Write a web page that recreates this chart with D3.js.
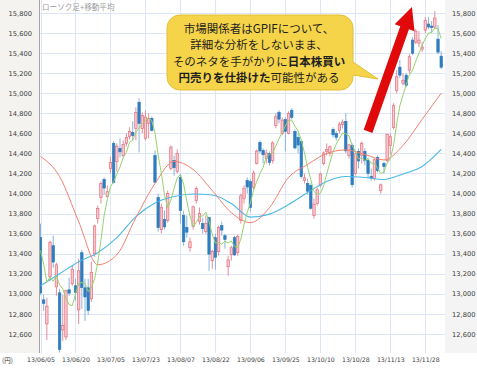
<!DOCTYPE html>
<html>
<head>
<meta charset="utf-8">
<script src="https://cdn.jsdelivr.net/npm/d3@7"></script>
<style>
body { margin: 0; background: #fff; }
svg text { font-family: "DejaVu Sans", sans-serif; }
</style>
</head>
<body>
<div id="chart"></div>
<script>
// 日経平均 日足 (13/06/05 - 13/12/05)
const opens = [13560,12940,12700,13170,13480,13070,13010,12640,12570,13040,13100,13080,12840,13410,13060,13060,12950,13400,
  13750,13960,14140,13970,14250,14500,14320,14450,14380,14500,14570,14610,14650,14910,14650,14550,14700,14747,14380,13960,13640,13740,
  13730,14250,14330,14220,14160,13780,13660,13460,13670,13930,13720,13700,13620,13760,13330,13560,13420,13680,13580,13270,13390,13560,
  13410,13730,13950,14130,14120,14060,14300,14510,14430,14350,14400,14330,14680,14810,14600,14740,14600,14830,14620,
  14560,14520,14130,14100,14080,13780,13900,14080,14300,14420,14400,14640,14600,14630,14690,14720,14380,14480,14200,14420,14380,14420,
  14330,14170,14150,14360,14030,14300,14330,14480,14660,15030,15260,15100,15180,15230,15530,15510,15500,15440,15630,15690,
  15670,15660,15540,15370];
const highs = [13700,12990,12960,13530,13580,13310,13050,12990,13040,13160,13280,13150,13350,13440,13150,13150,13320,13690,
  13880,14120,14160,14080,14370,14520,14500,14550,14530,14600,14660,14720,14860,14950,14810,14830,14800,14770,14430,14000,13900,13830,
  14030,14480,14380,14440,14200,13830,13780,13560,13880,14070,13860,13760,13780,13770,13440,13600,13680,13720,13600,13380,13480,13580,
  13590,14000,14080,14160,14140,14230,14440,14530,14450,14440,14420,14520,14800,14830,14760,14760,14820,14850,14640,
  14600,14540,14200,14150,14100,13950,14060,14210,14420,14500,14480,14660,14620,14710,14740,14800,14490,14500,14420,14450,14520,14450,
  14350,14250,14350,14380,14100,14320,14600,14600,14900,15230,15330,15200,15200,15390,15560,15640,15620,15510,15760,15760,
  15720,15820,15680,15420];
const lows = [12990,12830,12540,13130,13260,12980,12415,12530,12540,12980,13080,12930,12700,12850,12730,12790,12920,13370,
  13700,13900,13990,13960,14200,14100,14220,14360,14360,14470,14540,14530,14530,14410,14600,14530,14550,14620,14100,13620,13600,13640,
  13710,14230,14180,14200,13700,13480,13560,13420,13640,13900,13690,13600,13600,13230,13250,13240,13380,13580,13450,13180,13330,13380,
  13380,13700,13900,14000,13820,14040,14290,14400,14300,14300,14280,14300,14650,14700,14580,14420,14590,14740,14440,
  14400,14150,14100,13990,13840,13750,13880,14060,14280,14380,14370,14560,14530,14600,14650,14400,14350,14060,14180,14250,14300,14280,
  14150,14130,14130,14210,14000,14200,14310,14390,14640,15000,15150,15080,15060,15200,15380,15490,15460,15410,15600,15640,
  15600,15640,15390,15240];
const closes = [13010,12904,12877,13514,13317,13289,12445,12686,13033,13007,13245,13014,13230,13062,12969,12834,13213,13677,
  13852,14099,14055,14018,14309,14109,14473,14416,14490,14560,14620,14580,14808,14700,14780,14763,14747,14630,14113,13661,13863,13668,
  14000,14463,14258,14401,13830,13520,13615,13519,13868,14050,13800,13650,13700,13396,13424,13365,13660,13636,13542,13338,13459,13388,
  13572,13978,14053,14065,13860,14205,14423,14425,14387,14404,14311,14505,14766,14742,14732,14620,14799,14760,14455,
  14484,14170,14157,14024,13853,13894,14037,14194,14404,14441,14467,14586,14561,14693,14713,14426,14486,14088,14396,14325,14502,14327,
  14201,14155,14337,14228,14086,14270,14588,14567,14876,15165,15180,15130,15080,15365,15400,15619,15530,15460,15727,15661,
  15655,15750,15410,15260];

// 移動平均 (5日: 毎日, 25日・75日: 6日おきに読み取り)
const ma5 = [13433,13296,13117,13168,13124,13180,13088,13050,12954,12892,12883,12997,13106,13112,13104,13022,13062,13151,
  13309,13535,13779,13940,14067,14118,14193,14265,14359,14410,14512,14533,14612,14654,14698,14726,14760,14724,14607,14383,14203,13987,
  13861,13931,14050,14158,14190,14094,13925,13777,13670,13714,13770,13777,13814,13719,13594,13507,13509,13496,13525,13508,13527,13473,
  13460,13547,13690,13811,13906,14032,14121,14196,14260,14369,14390,14406,14475,14546,14611,14673,14732,14731,14673,
  14624,14534,14405,14258,14138,14020,13993,14000,14076,14194,14309,14418,14492,14550,14604,14596,14576,14481,14422,14344,14359,14328,
  14350,14302,14304,14250,14201,14215,14302,14348,14477,14693,14875,14984,15086,15184,15231,15319,15399,15475,15547,15599,
  15607,15651,15641,15547];
const maDays = [0,6,12,18,24,30,36,42,48,54,60,66,72,78,84,90,96,102,108,114,120,126];
const ma25 = [14370,14170,13720,13290,13390,13760,14100,14320,14240,14030,13810,13710,13860,14160,14290,14400,14435,14390,14335,14480,14740,15000];
const ma75 = [13080,13200,13320,13410,13560,13770,13905,13970,13995,13985,13900,13765,13795,13890,14010,14120,14170,14160,14140,14195,14270,14440];

const tickDays = [0,11,22,33,44,55,66,77,88,99,110,121];
const tickLabels = ["13/06/05","13/06/20","13/07/05","13/07/23","13/08/07","13/08/22","13/09/06","13/09/25","13/10/10","13/10/28","13/11/13","13/11/28"];
const yTicks = [12600,12800,13000,13200,13400,13600,13800,14000,14200,14400,14600,14800,15000,15200,15400,15600,15800];

const width = 477, height = 368;
const plot = { left: 40, right: 445, top: 0, bottom: 353 };

const svg = d3.select("#chart").append("svg")
  .attr("width", width)
  .attr("height", height);

svg.append("rect").attr("width", width).attr("height", height).attr("fill", "#fff");
// 左右の目盛り欄
svg.append("rect").attr("x", 0).attr("y", 0).attr("width", plot.left - 1).attr("height", plot.bottom).attr("fill", "#f4f3f0");
svg.append("rect").attr("x", plot.right).attr("y", 0).attr("width", width - plot.right).attr("height", plot.bottom).attr("fill", "#f4f4f4");

const x = d3.scaleLinear().domain([0, 126]).range([40.5, 441.2]);
const y = d3.scaleLinear().domain([12410, 15930]).range([plot.bottom, plot.top]);

svg.append("clipPath").attr("id", "plotclip")
  .append("rect").attr("x", plot.left).attr("y", plot.top)
  .attr("width", plot.right - plot.left).attr("height", plot.bottom - plot.top);

const g = svg.append("g").attr("clip-path", "url(#plotclip)");

// グリッド
g.selectAll("line.hgrid").data(yTicks).enter().append("line")
  .attr("class", "hgrid")
  .attr("x1", plot.left).attr("x2", plot.right)
  .attr("y1", d => Math.round(y(d)) + 0.5).attr("y2", d => Math.round(y(d)) + 0.5)
  .attr("stroke", "#dde6f6").attr("stroke-width", 1);
g.selectAll("line.vgrid").data(tickDays).enter().append("line")
  .attr("class", "vgrid")
  .attr("x1", d => Math.round(x(d)) + 0.5).attr("x2", d => Math.round(x(d)) + 0.5)
  .attr("y1", plot.top).attr("y2", plot.bottom)
  .attr("stroke", "#dde6f6").attr("stroke-width", 1);

// ローソク足
const candles = opens.map((o, i) => ({ i: i, o: o, h: highs[i], l: lows[i], c: closes[i] }));
const isUp = d => d.c >= d.o;

g.selectAll("line.wick").data(candles).enter().append("line")
  .attr("class", "wick")
  .attr("x1", d => x(d.i)).attr("x2", d => x(d.i))
  .attr("y1", d => y(d.h)).attr("y2", d => y(d.l))
  .attr("stroke", d => isUp(d) ? "#e68c97" : "#86b5dd")
  .attr("stroke-width", 1);

g.selectAll("rect.body").data(candles).enter().append("rect")
  .attr("class", "body")
  .attr("x", d => x(d.i) - 1.2)
  .attr("width", 2.4)
  .attr("y", d => y(Math.max(d.o, d.c)))
  .attr("height", d => Math.max(1, Math.abs(y(d.o) - y(d.c))))
  .attr("fill", d => isUp(d) ? "#f6c8ce" : "#2f7dbf")
  .attr("stroke", d => isUp(d) ? "#e2707d" : "#2f7dbf")
  .attr("stroke-width", 0.7);

// 移動平均線
const lineDaily = d3.line().x((d, i) => x(i)).y(d => y(d));
const lineSampled = d3.line().x(d => x(d[0])).y(d => y(d[1])).curve(d3.curveMonotoneX);

g.append("path").datum(maDays.map((d, i) => [d, ma75[i]]))
  .attr("d", lineSampled).attr("fill", "none").attr("stroke", "#4cb9e6").attr("stroke-width", 1.1);
g.append("path").datum(maDays.map((d, i) => [d, ma25[i]]))
  .attr("d", lineSampled).attr("fill", "none").attr("stroke", "#f2806e").attr("stroke-width", 1);
g.append("path").datum(ma5)
  .attr("d", lineDaily).attr("fill", "none").attr("stroke", "#95d36e").attr("stroke-width", 1);

// 左の境界線
svg.append("line").attr("x1", plot.left - 0.5).attr("x2", plot.left - 0.5)
  .attr("y1", 0).attr("y2", plot.bottom).attr("stroke", "#a5a5a5");

// タイトル
svg.append("text").attr("x", 42).attr("y", 10)
  .style("font-family", "'Noto Sans CJK JP'").style("font-size", "7.6px")
  .attr("fill", "#9a9a9a").text("ローソク足+移動平均");

// 目盛り
const fmt = d3.format(",");
const yLeft = svg.append("g").attr("transform", `translate(${plot.left - 5},0)`)
  .call(d3.axisLeft(y).tickValues(yTicks).tickSize(0).tickFormat(fmt));
const yRight = svg.append("g").attr("transform", `translate(${plot.right + 4},0)`)
  .call(d3.axisRight(y).tickValues(yTicks).tickSize(0).tickFormat(fmt));
const xAxis = svg.append("g").attr("transform", `translate(0,${plot.bottom + 2})`)
  .call(d3.axisBottom(x).tickValues(tickDays).tickSize(0).tickFormat((d, i) => tickLabels[i]));

[yLeft, yRight, xAxis].forEach(a => {
  a.select(".domain").remove();
  a.selectAll("text").attr("fill", "#3a3a3a").style("font-family", "'DejaVu Sans'");
});
yLeft.selectAll("text").style("font-size", "6.7px").attr("dx", "0");
yRight.selectAll("text").style("font-size", "6.7px").attr("dx", "0");
xAxis.selectAll("text").style("font-size", "6.2px");

svg.append("text").attr("x", 2).attr("y", 363)
  .style("font-family", "'Noto Sans CJK JP'").style("font-size", "6.5px")
  .attr("fill", "#3a3a3a").text("(円)");

// 赤い矢印
const a0 = [x(103), y(14620)], a1 = [x(116.8), y(15860)];
const len = Math.hypot(a1[0] - a0[0], a1[1] - a0[1]);
const ux = (a1[0] - a0[0]) / len, uy = (a1[1] - a0[1]) / len;
const nx = -uy, ny = ux;
const headLen = 22, headW = 10.5, shaftW = 4.6;
const hb = [a1[0] - ux * headLen, a1[1] - uy * headLen];
const arrowPts = [
  [a0[0] + nx * shaftW, a0[1] + ny * shaftW],
  [hb[0] + nx * shaftW, hb[1] + ny * shaftW],
  [hb[0] + nx * headW, hb[1] + ny * headW],
  a1,
  [hb[0] - nx * headW, hb[1] - ny * headW],
  [hb[0] - nx * shaftW, hb[1] - ny * shaftW],
  [a0[0] - nx * shaftW, a0[1] - ny * shaftW]
];
svg.append("polygon").attr("points", arrowPts.map(p => p.join(",")).join(" "))
  .attr("fill", "#e10a0a");

// 吹き出し
svg.append("path")
  .attr("d", "M180,15 H340 A13,13 0 0 1 353,28 V62 L378,79 L353,75 V77 A13,13 0 0 1 340,90 H180 A13,13 0 0 1 167,77 V28 A13,13 0 0 1 180,15 Z")
  .attr("fill", "#f5d44a").attr("stroke", "#e2bf35").attr("stroke-width", 1);

const note = [
  [["市場関係者はGPIFについて、", false]],
  [["詳細な分析をしないまま、", false]],
  [["そのネタを手がかりに", false], ["日本株買い", true]],
  [["円売りを仕掛けた", true], ["可能性がある", false]]
];
const noteY = [28, 44, 61, 77];
note.forEach((parts, k) => {
  const t = svg.append("text")
    .attr("x", 259).attr("y", noteY[k])
    .attr("text-anchor", "middle")
    .attr("dominant-baseline", "central")
    .style("font-family", "'Noto Sans CJK JP'")
    .style("font-size", "11.5px")
    .attr("fill", "#1e1e1e");
  parts.forEach(p => {
    t.append("tspan").text(p[0]).style("font-weight", p[1] ? "bold" : "normal");
  });
});
</script>
</body>
</html>
